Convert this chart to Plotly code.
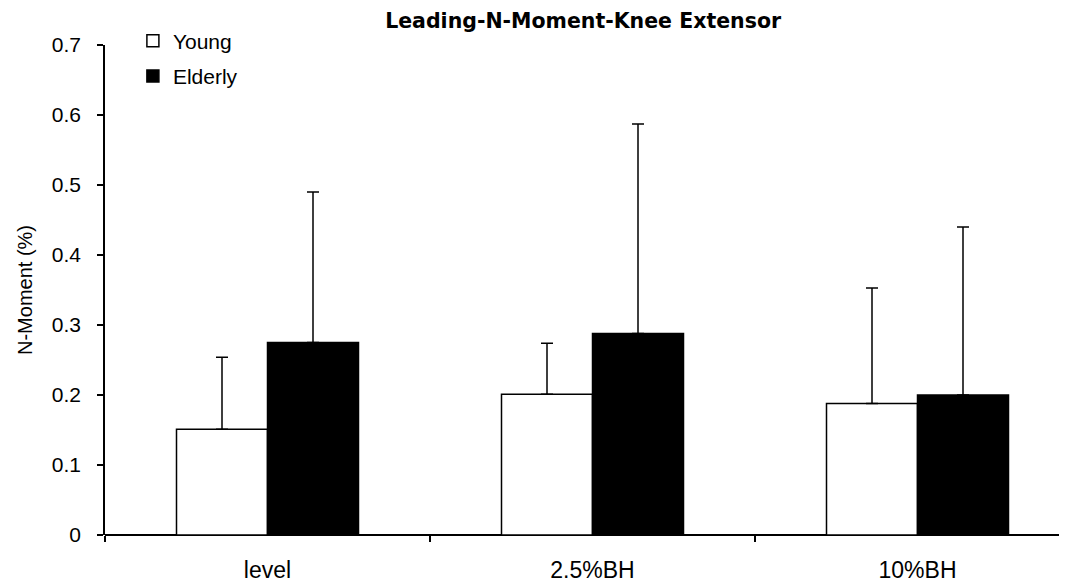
import plotly.graph_objects as go

categories = ["level", "2.5%BH", "10%BH"]
young_mean = [0.151, 0.201, 0.188]
young_sd = [0.103, 0.073, 0.165]
elderly_mean = [0.275, 0.288, 0.200]
elderly_sd = [0.215, 0.299, 0.240]
y_ticks = [0, 0.1, 0.2, 0.3, 0.4, 0.5, 0.6, 0.7]
y_tick_labels = ["0", "0.1", "0.2", "0.3", "0.4", "0.5", "0.6", "0.7"]

FONT = "Liberation Sans, Arial, sans-serif"

fig = go.Figure()
fig.add_trace(go.Bar(
    name="Young", x=categories, y=young_mean, legendgroup="y",
    marker=dict(color="white", line=dict(color="black", width=1.5)),
    error_y=dict(type="data", array=young_sd, arrayminus=[0, 0, 0], symmetric=False,
                 color="black", thickness=1.5, width=6),
))
fig.add_trace(go.Bar(
    name="Elderly", x=categories, y=elderly_mean, legendgroup="e",
    marker=dict(color="black", line=dict(color="black", width=1.5)),
    error_y=dict(type="data", array=elderly_sd, arrayminus=[0, 0, 0], symmetric=False,
                 color="black", thickness=1.5, width=6),
))

fig.update_layout(
    width=1067, height=584,
    paper_bgcolor="white", plot_bgcolor="white",
    margin=dict(l=97, r=8, t=37, b=57, autoexpand=False),
    barmode="group", bargap=0.44, bargroupgap=0,
    font=dict(family=FONT, size=21, color="black"),
    title=dict(text="<b>Leading-N-Moment-Knee Extensor</b>", x=0.539, xref="container",
               xanchor="center", y=0.978, yanchor="middle",
               font=dict(size=20.5, family="DejaVu Sans, sans-serif")),
    legend=dict(x=0.029, y=1.05, xanchor="left", yanchor="top", bgcolor="rgba(0,0,0,0)",
                font=dict(size=21), tracegroupgap=5, itemwidth=30),
    showlegend=True,
)
fig.update_xaxes(
    type="category", range=[-0.5, 2.46], showline=False, automargin=False,
    ticks="outside", tickson="boundaries", ticklen=6, tickcolor="black", tickwidth=1.5,
    showgrid=False, zeroline=False, tickfont=dict(size=23), ticklabelstandoff=19,
)
fig.update_yaxes(
    range=[0, 0.7], tickvals=y_ticks, ticktext=y_tick_labels, automargin=False,
    showline=True, linecolor="black", linewidth=1.5,
    ticks="outside", ticklen=6, tickcolor="black", tickwidth=1.5,
    showgrid=False, zeroline=True, zerolinecolor="black", zerolinewidth=1.5,
    tickfont=dict(size=21), ticklabelstandoff=12,
    title=dict(text="N-Moment (%)", font=dict(size=20), standoff=14),
)

fig.write_html("out.html")
